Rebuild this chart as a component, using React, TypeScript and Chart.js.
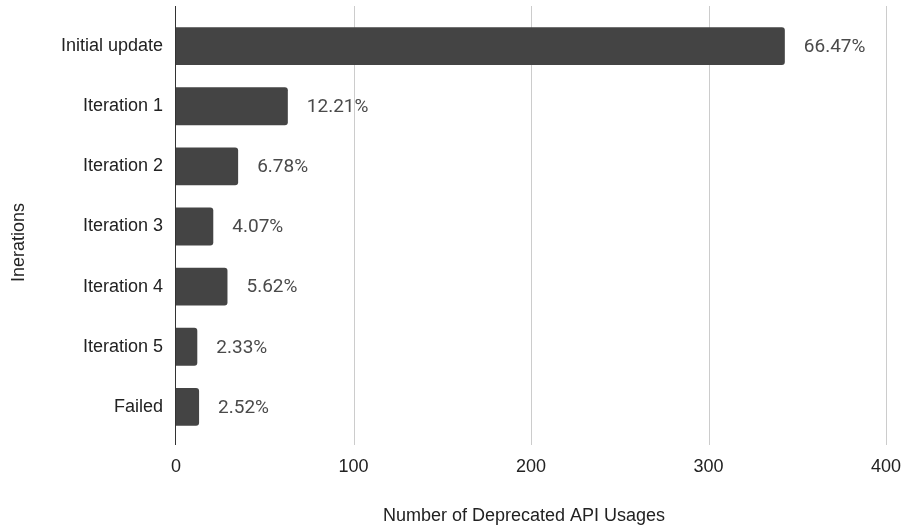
import React, { useEffect, useRef } from "react";
import { Chart, registerables } from "chart.js";

Chart.register(...registerables);

const categories = [
  "Initial update",
  "Iteration 1",
  "Iteration 2",
  "Iteration 3",
  "Iteration 4",
  "Iteration 5",
  "Failed",
];
const usages = [343, 63, 35, 21, 29, 12, 13];
const xTicks = [0, 100, 200, 300, 400];
const xTitle = "Number of Deprecated API Usages";
const yTitle = "Inerations";

const LABEL_FONT = "'Liberation Sans', Arial, sans-serif";
const PCT_FONT = "Roboto, 'Noto Sans', sans-serif";

export default function App() {
  const ref = useRef<HTMLCanvasElement | null>(null);

  useEffect(() => {
    document.body.style.margin = "0";
    const canvas = ref.current;
    if (!canvas) return;
    const total = usages.reduce((a, b) => a + b, 0);

    const decor = {
      id: "decor",
      beforeDatasetsDraw(chart: any) {
        const ctx = chart.ctx;
        const xs = chart.scales.x;
        const { top, bottom } = chart.chartArea;
        ctx.save();
        ctx.strokeStyle = "#cccccc";
        ctx.lineWidth = 1;
        for (const v of xTicks) {
          if (v === 0) continue;
          const px = Math.round(xs.getPixelForValue(v)) + 0.5;
          ctx.beginPath();
          ctx.moveTo(px, top - 10);
          ctx.lineTo(px, bottom + 8);
          ctx.stroke();
        }
        ctx.restore();
      },
      afterDatasetsDraw(chart: any) {
        const ctx = chart.ctx;
        const xs = chart.scales.x;
        const { top, bottom, left, right } = chart.chartArea;
        ctx.save();
        // axis line
        ctx.strokeStyle = "#333333";
        ctx.lineWidth = 1;
        const p0 = Math.round(xs.getPixelForValue(0)) - 0.5;
        ctx.beginPath();
        ctx.moveTo(p0, top - 10);
        ctx.lineTo(p0, bottom + 8);
        ctx.stroke();
        // percent labels
        const meta = chart.getDatasetMeta(0);
        ctx.fillStyle = "#4a4a4a";
        ctx.font = `19px ${PCT_FONT}`;
        ctx.textAlign = "left";
        ctx.textBaseline = "middle";
        meta.data.forEach((bar: any, i: number) => {
          const pct = ((usages[i] / total) * 100).toFixed(2) + "%";
          ctx.fillText(pct, bar.x + 19, bar.y + 1);
        });
        // axis titles
        ctx.fillStyle = "#222222";
        ctx.font = `18px ${LABEL_FONT}`;
        ctx.textAlign = "center";
        ctx.textBaseline = "middle";
        ctx.fillText(xTitle, (left + right) / 2 - 7, bottom + 79);
        ctx.translate(19, (top + bottom) / 2 + 16);
        ctx.rotate(-Math.PI / 2);
        ctx.fillText(yTitle, 0, 0);
        ctx.restore();
      },
    };

    const chart = new Chart(canvas, {
      type: "bar",
      data: {
        labels: categories,
        datasets: [
          {
            data: usages,
            backgroundColor: "#444444",
            borderRadius: 3,
            borderSkipped: "start",
            barPercentage: 0.63,
            categoryPercentage: 1,
          },
        ],
      },
      options: {
        indexAxis: "y",
        animation: false,
        responsive: false,
        devicePixelRatio: 1,
        layout: { padding: { top: 16, right: 17, left: 0, bottom: 0 } },
        plugins: {
          legend: { display: false },
          tooltip: { enabled: false },
          title: { display: false },
        },
        scales: {
          x: {
            type: "linear",
            min: 0,
            max: 400,
            afterBuildTicks: (s: any) => {
              s.ticks = xTicks.map((v) => ({ value: v }));
            },
            afterFit: (s: any) => {
              s.height = 92;
              s.paddingLeft = 0;
              s.paddingRight = 0;
              s.paddingTop = 0;
              s.paddingBottom = 0;
            },
            grid: { display: false, drawTicks: false, tickLength: 0 },
            border: { display: false },
            ticks: {
              padding: 19,
              color: "#222222",
              font: { family: LABEL_FONT, size: 18 },
            },
          },
          y: {
            afterFit: (s: any) => {
              s.width = 176;
              s.paddingLeft = 0;
              s.paddingRight = 0;
              s.paddingTop = 0;
              s.paddingBottom = 0;
            },
            grid: { display: false, drawTicks: false, tickLength: 0 },
            border: { display: false },
            ticks: {
              padding: 13,
              color: "#222222",
              font: { family: LABEL_FONT, size: 18 },
            },
          },
        },
      },
      plugins: [decor],
    });
    return () => chart.destroy();
  }, []);

  return (
    <div style={{ width: 903, height: 529, background: "#ffffff" }}>
      <canvas ref={ref} width={903} height={529} />
    </div>
  );
}
